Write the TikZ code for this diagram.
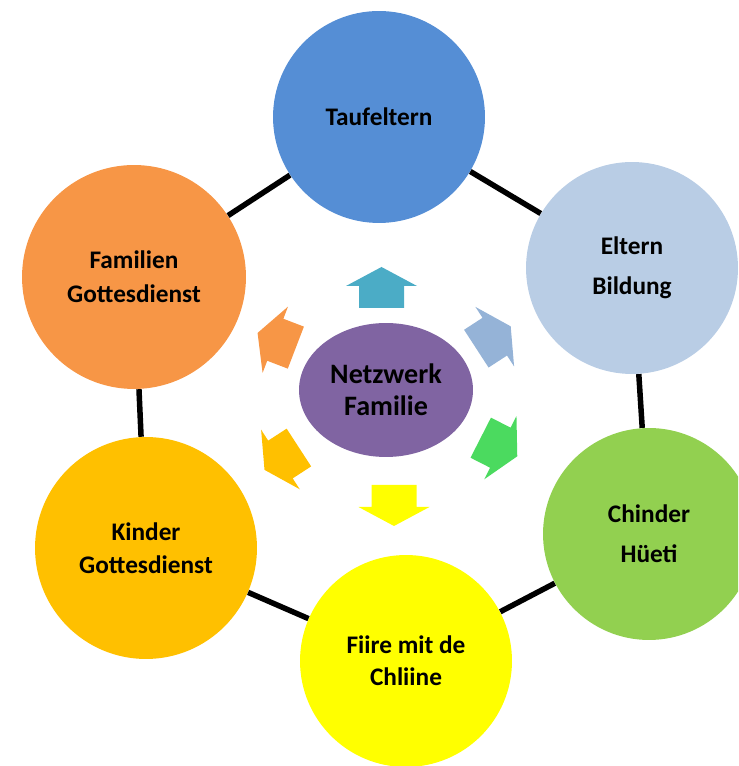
\documentclass[tikz,border=0pt]{standalone}
\usepackage{fontspec}
\setmainfont{Carlito}
\usetikzlibrary{shapes.geometric}

\definecolor{taufblue}{HTML}{558ED5}
\definecolor{elternblue}{HTML}{B9CDE5}
\definecolor{chindergreen}{HTML}{92D050}
\definecolor{fiireyellow}{HTML}{FFFF00}
\definecolor{kinderamber}{HTML}{FFC000}
\definecolor{familienorange}{HTML}{F79646}
\definecolor{netzpurple}{HTML}{8064A2}
\definecolor{arrowteal}{HTML}{4BACC6}
\definecolor{arrowblue}{HTML}{95B3D7}
\definecolor{arrowgreen}{HTML}{4BDA5F}

\tikzset{
  bubble/.style={circle, inner sep=0pt, minimum size=4.24cm, align=center,
    font=\bfseries\fontsize{14.4}{19.3}\selectfont},
  link/.style={line width=0.11cm, black},
  pics/blockarrow/.style={code={%
    \fill (-20.5,-22.5) -- (1.5,-22.5) -- (1.5,-35.5) -- (20.5,0)
      -- (1.5,35.5) -- (1.5,22.5) -- (-20.5,22.5) -- cycle;}}
}

\begin{document}
\begin{tikzpicture}[x=0.02cm, y=0.02cm]
            \useasboundingbox (0,0) rectangle (738,766);
            \clip (0,0) rectangle (738,766);

            % Ring of circles
            \node [bubble, fill=taufblue] (tauf) at (379,649) {Taufeltern};
            \node [bubble, fill=elternblue, font=\bfseries\fontsize{14.4}{23}\selectfont] (eltern) at (632,498) {Eltern\\Bildung};
            \node [bubble, fill=chindergreen, font=\bfseries\fontsize{14.4}{22.8}\selectfont] (chinder) at (649,232) {Chinder\\Hüeti};
            \node [bubble, fill=fiireyellow, font=\bfseries\fontsize{14.4}{18.2}\selectfont] (fiire) at (406,105) {Fiire mit de\\Chliine};
            \node [bubble, fill=kinderamber, minimum size=4.44cm, font=\bfseries\fontsize{14.4}{18.8}\selectfont] (kinder) at (146,218) {Kinder\\Gottesdienst};
            \node [bubble, fill=familienorange, minimum size=4.48cm] (familien) at (134,489) {Familien\\Gottesdienst};

            % Connecting the ring
            \draw [link] (tauf) -- (eltern);
            \draw [link] (eltern) -- (chinder);
            \draw [link] (chinder) -- (fiire);
            \draw [link] (fiire) -- (kinder);
            \draw [link] (kinder) -- (familien);
            \draw [link] (familien) -- (tauf);

            % Centre of the network
            \node [ellipse, fill=netzpurple, inner sep=0pt, minimum width=3.48cm, minimum height=2.68cm,
              align=center, font=\bfseries\fontsize{16}{18.2}\selectfont] (netz) at (386,376) {Netzwerk\\Familie};

            % Arrows pointing outwards
            \pic [fill=arrowteal, rotate=90] at (381.5,478.5) {blockarrow};
            \pic [fill=arrowblue, rotate=33] at (493.5,428.5) {blockarrow};
            \pic [fill=arrowgreen, rotate=-27] at (499,319) {blockarrow};
            \pic [fill=fiireyellow, rotate=-90] at (394,260.5) {blockarrow};
            \pic [fill=kinderamber, rotate=213] at (281.7,307.3) {blockarrow};
            \pic [fill=familienorange, rotate=159] at (276.7,425.7) {blockarrow};
\end{tikzpicture}
\end{document}
